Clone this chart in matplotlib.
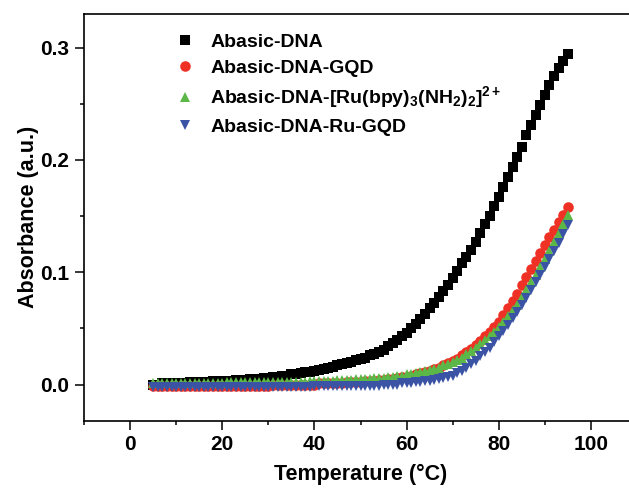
import numpy as np
import matplotlib
matplotlib.use("Agg")
import matplotlib.pyplot as plt

plt.rcParams['font.family'] = ['Liberation Sans', 'DejaVu Sans']
plt.rcParams['font.weight'] = 'bold'
plt.rcParams['mathtext.fontset'] = 'custom'
plt.rcParams['mathtext.rm'] = 'Liberation Sans:bold'
plt.rcParams['mathtext.it'] = 'Liberation Sans:bold'
plt.rcParams['mathtext.bf'] = 'Liberation Sans:bold'
plt.rcParams['mathtext.default'] = 'rm'

# temperature 5..95 C, 1 degree steps
temperature = list(range(5, 96))

abasic_dna = [
    0.000, 0.000, 0.001, 0.001, 0.001, 0.001, 0.001, 0.001, 0.002, 0.002,   # 5-14
    0.002, 0.002, 0.002, 0.003, 0.003, 0.003, 0.003, 0.003, 0.004, 0.004,   # 15-24
    0.004, 0.005, 0.005, 0.005, 0.006, 0.006, 0.007, 0.007, 0.008, 0.008,   # 25-34
    0.009, 0.009, 0.010, 0.011, 0.011, 0.012, 0.013, 0.014, 0.015, 0.016,   # 35-44
    0.017, 0.018, 0.019, 0.020, 0.022, 0.023, 0.024, 0.026, 0.027, 0.029,   # 45-54
    0.031, 0.034, 0.037, 0.040, 0.043, 0.046, 0.050, 0.054, 0.058, 0.063,   # 55-64
    0.068, 0.073, 0.078, 0.083, 0.089, 0.095, 0.101, 0.108, 0.114, 0.120,   # 65-74
    0.127, 0.135, 0.143, 0.150, 0.159, 0.167, 0.176, 0.185, 0.194, 0.203,   # 75-84
    0.212, 0.222, 0.231, 0.240, 0.249, 0.258, 0.267, 0.275, 0.282, 0.288,   # 85-94
    0.294,
]

abasic_gqd = [
    -0.001, -0.001, -0.001, -0.001, -0.001, -0.001, -0.001, -0.001, -0.001, -0.001,
    -0.001, -0.001, -0.001, -0.001, -0.001, -0.001, -0.001, -0.001, -0.001, -0.001,
    -0.001, -0.001, -0.001, -0.001, -0.001, -0.001, 0.000, 0.000, 0.000, 0.000,
    0.000, 0.000, 0.000, 0.000, 0.000, 0.000, 0.001, 0.001, 0.001, 0.001,
    0.001, 0.001, 0.002, 0.002, 0.002, 0.002, 0.003, 0.003, 0.003, 0.004,
    0.004, 0.005, 0.005, 0.006, 0.007, 0.007, 0.008, 0.009, 0.010, 0.011,
    0.012, 0.014, 0.015, 0.017, 0.019, 0.021, 0.023, 0.026, 0.029, 0.032,
    0.035, 0.039, 0.043, 0.047, 0.051, 0.056, 0.062, 0.068, 0.074, 0.081,
    0.089, 0.096, 0.103, 0.110, 0.117, 0.124, 0.131, 0.138, 0.145, 0.151,
    0.158,
]

abasic_ru = [
    0.001, 0.001, 0.001, 0.001, 0.001, 0.001, 0.001, 0.001, 0.001, 0.001,
    0.001, 0.001, 0.001, 0.001, 0.001, 0.001, 0.002, 0.002, 0.002, 0.002,
    0.002, 0.002, 0.002, 0.002, 0.002, 0.002, 0.002, 0.002, 0.002, 0.002,
    0.002, 0.002, 0.002, 0.002, 0.003, 0.003, 0.003, 0.003, 0.003, 0.003,
    0.004, 0.004, 0.004, 0.004, 0.005, 0.005, 0.005, 0.005, 0.006, 0.006,
    0.006, 0.007, 0.007, 0.008, 0.008, 0.009, 0.009, 0.010, 0.011, 0.012,
    0.013, 0.014, 0.015, 0.017, 0.018, 0.020, 0.022, 0.024, 0.027, 0.030,
    0.033, 0.036, 0.040, 0.043, 0.047, 0.051, 0.056, 0.061, 0.066, 0.071,
    0.078, 0.084, 0.091, 0.098, 0.105, 0.112, 0.119, 0.127, 0.135, 0.143,
    0.151,
]

abasic_ru_gqd = [
    -0.002, -0.002, -0.002, -0.002, -0.002, -0.002, -0.002, -0.002, -0.002, -0.002,
    -0.002, -0.002, -0.002, -0.002, -0.002, -0.002, -0.002, -0.002, -0.002, -0.002,
    -0.002, -0.002, -0.002, -0.002, -0.002, -0.002, -0.002, -0.002, -0.002, -0.002,
    -0.002, -0.002, -0.002, -0.002, -0.002, -0.001, -0.001, -0.001, -0.001, -0.001,
    -0.001, -0.001, -0.001, -0.001, -0.001, -0.001, -0.001, -0.001, -0.001, -0.001,
    0.000, 0.000, 0.000, 0.000, 0.001, 0.001, 0.001, 0.002, 0.002, 0.003,
    0.003, 0.004, 0.005, 0.006, 0.007, 0.008, 0.010, 0.012, 0.015, 0.018,
    0.021, 0.025, 0.029, 0.033, 0.038, 0.043, 0.048, 0.053, 0.059, 0.065,
    0.071, 0.077, 0.084, 0.091, 0.098, 0.105, 0.112, 0.119, 0.126, 0.134,
    0.142,
]

labels = ['Abasic-DNA',
          'Abasic-DNA-GQD',
          'Abasic-DNA-[Ru(bpy)$_3$(NH$_2$)$_2$]$^{2+}$',
          'Abasic-DNA-Ru-GQD']

fig = plt.figure(figsize=(6.29, 4.92), dpi=100)
# axes runs past the right edge of the figure, like the cropped original
ax = fig.add_axes([84 / 629, 1 - 420.5 / 492, (637 - 84) / 629, (420.5 - 14) / 492])

ax.plot(temperature, abasic_dna, 's', color='black', ms=6.8, mew=0, label=labels[0])
ax.plot(temperature, abasic_gqd, 'o', color='#EE3124', ms=7.6, mew=0, label=labels[1])
ax.plot(temperature, abasic_ru, '^', color='#5BB848', ms=7.8, mew=0, label=labels[2])
ax.plot(temperature, abasic_ru_gqd, 'v', color='#3A53A4', ms=7.8, mew=0, label=labels[3])

ax.set_xlim(-10, 110)
ax.set_ylim(-0.032, 0.33)
ax.set_xticks([0, 20, 40, 60, 80, 100])
ax.set_xticks(np.arange(-10, 111, 10), minor=True)
ax.set_yticks([0.0, 0.1, 0.2, 0.3])
ax.set_yticks([0.05, 0.15, 0.25], minor=True)
ax.yaxis.set_major_formatter(plt.FuncFormatter(lambda v, _: f'{v:.1f}'))

ax.tick_params(which='major', direction='out', length=6.5, width=1.1, labelsize=15, pad=4)
ax.tick_params(which='minor', direction='out', length=3.2, width=1.1)
for sp in ax.spines.values():
    sp.set_linewidth(1.2)

ax.set_xlabel('Temperature (°C)', fontsize=15.5, fontweight='bold', labelpad=7)
ax.set_ylabel('Absorbance (a.u.)', fontsize=15.5, fontweight='bold', labelpad=1)

ax.legend(loc='upper left', bbox_to_anchor=(0.13, 0.995), frameon=False,
          fontsize=14, handletextpad=0.7, handlelength=1.2, labelspacing=0.4,
          markerscale=1.0)

fig.savefig('out.png', dpi=100)
